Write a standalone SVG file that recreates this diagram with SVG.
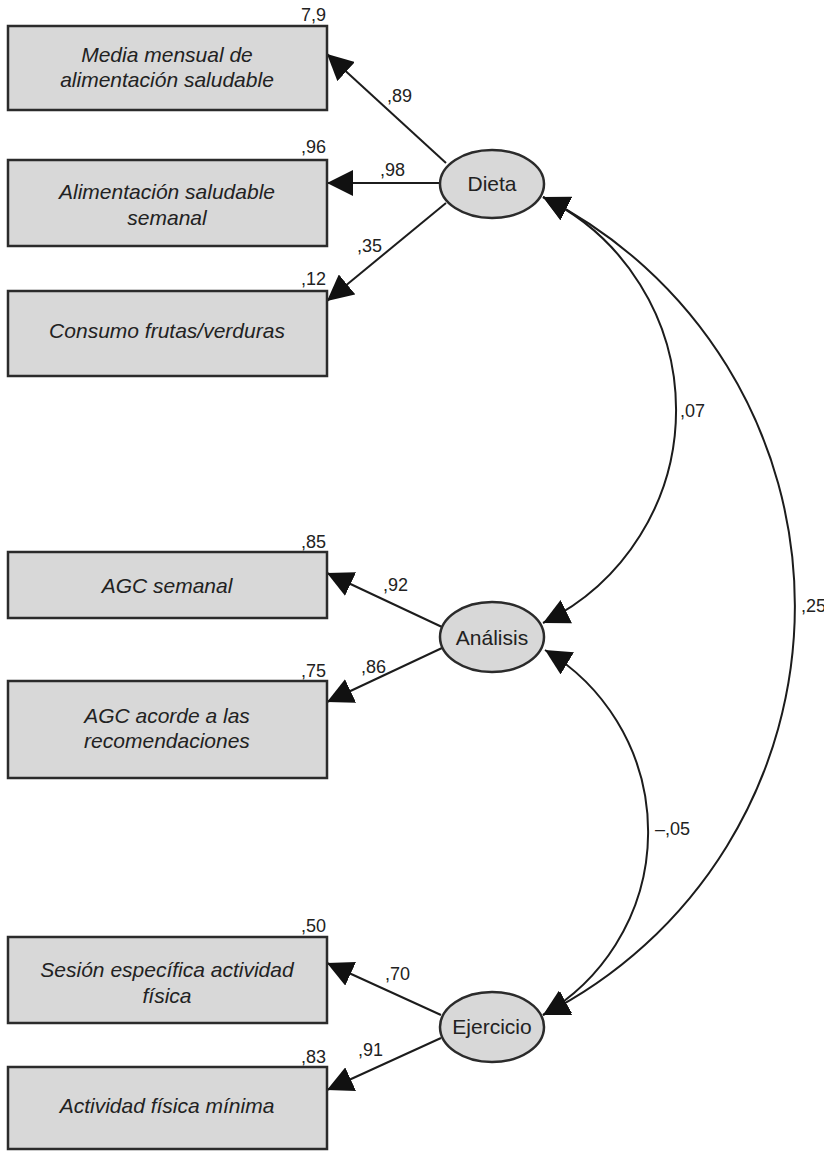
<svg xmlns="http://www.w3.org/2000/svg" width="824" height="1151" viewBox="0 0 824 1151">
<style>
.box{fill:#d8d8d8;stroke:#2b2b2b;stroke-width:2.5}
.lat{fill:#d8d8d8;stroke:#2b2b2b;stroke-width:2.5}
.bt{font-family:"Liberation Sans",Arial,sans-serif;font-size:21px;font-style:italic;fill:#222;text-anchor:middle}
.lt{font-family:"Liberation Sans",Arial,sans-serif;font-size:21px;fill:#222;text-anchor:middle}
.num{font-family:"Liberation Sans",Arial,sans-serif;font-size:18px;fill:#222}
.end{text-anchor:end}
.ln{fill:none;stroke:#1c1c1c;stroke-width:2}
</style>
<defs>
<marker id="ah" markerUnits="userSpaceOnUse" markerWidth="26" markerHeight="26" viewBox="0 0 26 26" refX="26" refY="13" orient="auto-start-reverse">
<path d="M0,0 L26,13 L0,26 z" fill="#111"/>
</marker>
</defs>
<rect width="824" height="1151" fill="#fff"/>

<g id="connectors">
<line class="ln" x1="446" y1="163" x2="327" y2="54" marker-end="url(#ah)"/>
<line class="ln" x1="440" y1="183" x2="327" y2="183" marker-end="url(#ah)"/>
<line class="ln" x1="446" y1="203" x2="327" y2="301" marker-end="url(#ah)"/>
<line class="ln" x1="442" y1="627" x2="327" y2="573" marker-end="url(#ah)"/>
<line class="ln" x1="442" y1="648" x2="327" y2="702" marker-end="url(#ah)"/>
<line class="ln" x1="441" y1="1015" x2="327" y2="963" marker-end="url(#ah)"/>
<line class="ln" x1="441" y1="1038" x2="327" y2="1090" marker-end="url(#ah)"/>
<path class="ln" d="M543,197 A237,237 0 0,1 543,623" marker-start="url(#ah)" marker-end="url(#ah)"/>
<path class="ln" d="M543,197 A458,458 0 0,1 543,1015" marker-start="url(#ah)" marker-end="url(#ah)"/>
<path class="ln" d="M545,650 A212,212 0 0,1 543,1015" marker-start="url(#ah)" marker-end="url(#ah)"/>
<text class="num" x="387" y="102">,89</text>
<text class="num" x="380" y="176">,98</text>
<text class="num" x="357" y="252">,35</text>
<text class="num" x="383" y="591">,92</text>
<text class="num" x="361" y="673">,86</text>
<text class="num" x="385" y="980">,70</text>
<text class="num" x="358" y="1056">,91</text>
<text class="num" x="680" y="417">,07</text>
<text class="num" x="801" y="612">,25</text>
<text class="num" x="655" y="835">–,05</text>
</g>

<g id="box1">
<rect class="box" x="8" y="26" width="319" height="84"/>
<text class="num end" x="326" y="21">7,9</text>
<text class="bt" x="167" y="62">Media mensual de</text>
<text class="bt" x="167" y="87">alimentación saludable</text>
</g>
<g id="box2">
<rect class="box" x="8" y="160" width="319" height="86"/>
<text class="num end" x="326" y="153">,96</text>
<text class="bt" x="167" y="199">Alimentación saludable</text>
<text class="bt" x="167" y="225">semanal</text>
</g>
<g id="box3">
<rect class="box" x="8" y="291" width="319" height="85"/>
<text class="num end" x="326" y="285">,12</text>
<text class="bt" x="167" y="338">Consumo frutas/verduras</text>
</g>
<g id="box4">
<rect class="box" x="8" y="552" width="319" height="66"/>
<text class="num end" x="326" y="548">,85</text>
<text class="bt" x="167" y="593">AGC semanal</text>
</g>
<g id="box5">
<rect class="box" x="8" y="681" width="319" height="97"/>
<text class="num end" x="326" y="677">,75</text>
<text class="bt" x="167" y="723">AGC acorde a las</text>
<text class="bt" x="167" y="748">recomendaciones</text>
</g>
<g id="box6">
<rect class="box" x="8" y="937" width="319" height="86"/>
<text class="num end" x="326" y="932">,50</text>
<text class="bt" x="167" y="977">Sesión específica actividad</text>
<text class="bt" x="167" y="1003">física</text>
</g>
<g id="box7">
<rect class="box" x="8" y="1067" width="319" height="82"/>
<text class="num end" x="326" y="1063">,83</text>
<text class="bt" x="167" y="1113">Actividad física mínima</text>
</g>

<g id="dieta">
<ellipse class="lat" cx="492" cy="184" rx="52" ry="34"/>
<text class="lt" x="492" y="191">Dieta</text>
</g>
<g id="analisis">
<ellipse class="lat" cx="492" cy="637" rx="52" ry="35"/>
<text class="lt" x="492" y="645">Análisis</text>
</g>
<g id="ejercicio">
<ellipse class="lat" cx="492" cy="1027" rx="52" ry="35"/>
<text class="lt" x="492" y="1034">Ejercicio</text>
</g>
</svg>
